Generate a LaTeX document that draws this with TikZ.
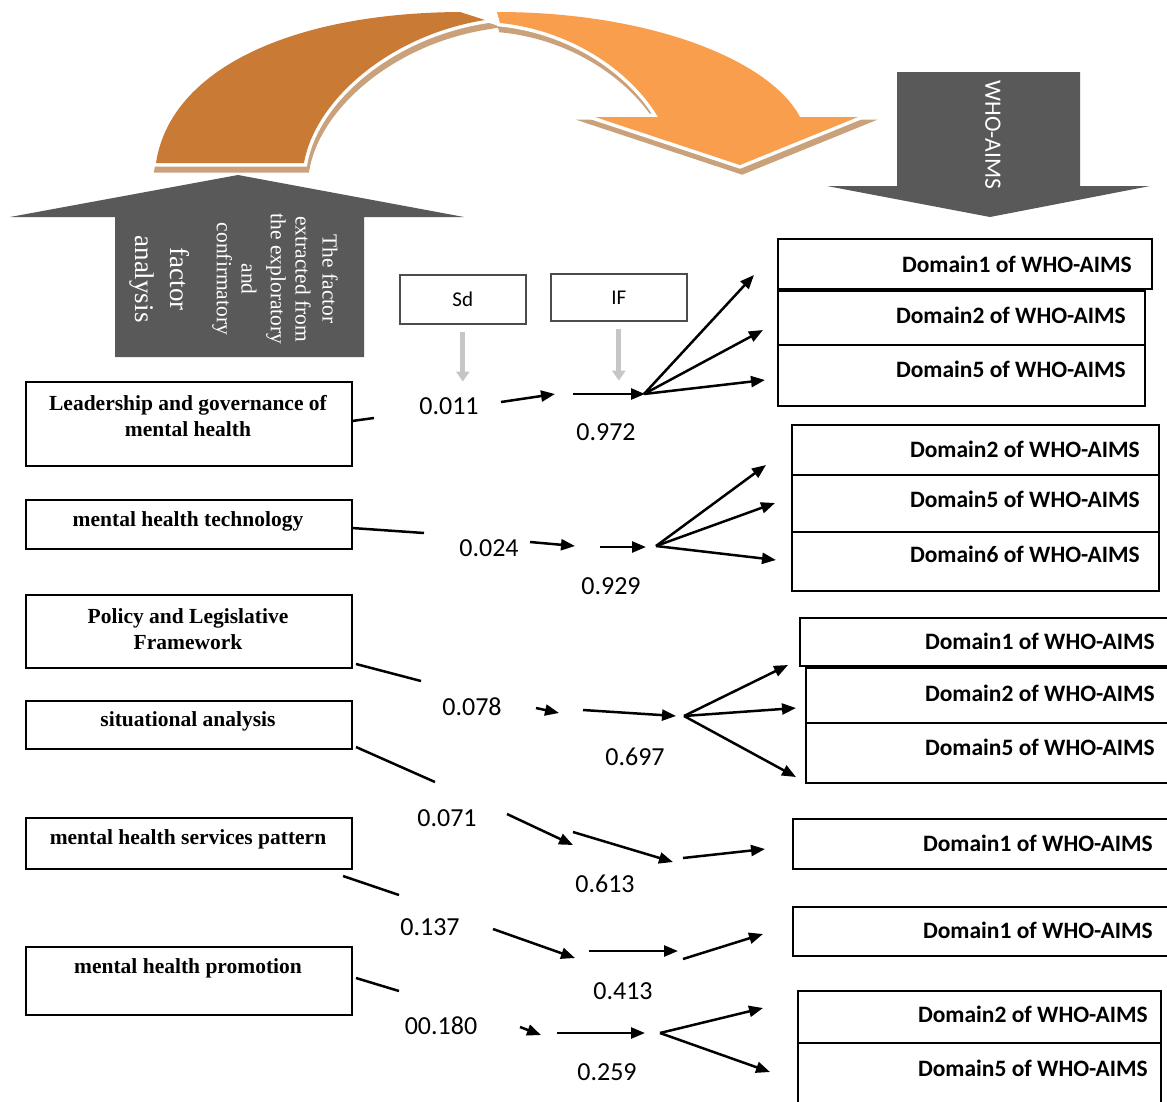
\documentclass[tikz,border=0pt]{standalone}
\usepackage{fontspec}
\setmainfont{Liberation Serif}
\newfontfamily\carlito{Carlito}
\usetikzlibrary{arrows.meta}
\definecolor{darkOr}{HTML}{C97A35}
\definecolor{lightOr}{HTML}{F89E4C}
\definecolor{tanSh}{HTML}{C9A27C}
\definecolor{arrGray}{HTML}{595959}
\begin{document}
\begin{tikzpicture}[x=1pt,y=-1pt,
  conn/.style={line width=2.5pt, black},
  arr/.style={conn, -{Triangle[length=14pt,width=11pt]}},
  lbox/.style={draw, line width=1.6pt, anchor=north west, inner sep=0pt, minimum width=326pt},
  rbox/.style={draw, line width=1.6pt, anchor=north west, inner sep=0pt},
  ltext/.style={font=\bfseries\fontsize{21.5}{26}\selectfont, align=center, inner sep=0pt},
  rtext/.style={font=\carlito\bfseries\fontsize{23.5}{26}\selectfont, anchor=east, inner sep=0pt},
  num/.style={font=\carlito\fontsize{26}{30}\selectfont, inner sep=0pt},
  vtext/.style={font=\fontsize{21.5}{23}\selectfont, white, rotate=-90, inner sep=0pt},
  vbig/.style={vtext, font=\fontsize{27}{29}\selectfont},
  smallbox/.style={draw=black!70, line width=1.6pt, anchor=north west, inner sep=0pt, font=\carlito\fontsize{21}{24}\selectfont},
  gArr/.style={line width=5pt, draw=gray!45, -{Triangle[length=10pt,width=13pt]}},
  glow/.style={draw=white, line width=7pt, line join=miter},
  shad/.style={fill=tanSh, draw=tanSh, line width=7pt, line join=miter},
]
\useasboundingbox (0,0) rectangle (1167,1101);
\fill[white] (0,0) rectangle (1167,1101);

% ---- curved orange arrow ----
\path[shad] (158,169) .. controls (172,76) and (292,19) .. (462,18) -- (487,26) .. controls (392,41) and (317,106) .. (306,169) -- cycle;
\path[shad] (499,18) .. controls (652,18) and (772,66) .. (802,123) -- (860,123) -- (742,171) -- (597,123) -- (660,123) .. controls (632,76) and (572,36) .. (502,29) -- cycle;
\path[glow] (156,163) .. controls (170,70) and (290,13) .. (460,12) -- (485,20) .. controls (390,35) and (315,100) .. (304,163) -- cycle;
\fill[darkOr] (156,163) .. controls (170,70) and (290,13) .. (460,12) -- (485,20) .. controls (390,35) and (315,100) .. (304,163) -- cycle;
\path[glow] (497,12) .. controls (650,12) and (770,60) .. (800,117) -- (858,117) -- (740,165) -- (595,117) -- (658,117) .. controls (630,70) and (570,30) .. (500,23) -- cycle;
\fill[lightOr] (497,12) .. controls (650,12) and (770,60) .. (800,117) -- (858,117) -- (740,165) -- (595,117) -- (658,117) .. controls (630,70) and (570,30) .. (500,23) -- cycle;

% ---- gray block arrows ----
\fill[arrGray] (10,217) -- (238,175) -- (464,217) -- (364,217) -- (364,357) -- (115,357) -- (115,217) -- cycle;
\fill[arrGray] (897,72) -- (1080,72) -- (1080,186) -- (1150,186) -- (990,217) -- (827,186) -- (897,186) -- cycle;

\node[vtext] (t1) at (330,279) {The factor};
\node[vtext] (t2) at (303,279) {extracted from};
\node[vtext] (t3) at (276,279) {the exploratory};
\node[vtext] (t4) at (249,279) {and};
\node[vtext] (t5) at (222,279) {confirmatory};
\node[vbig] (t6) at (180,279) {factor};
\node[vbig] (t7) at (142,279) {analysis};
\node[white, rotate=-90, inner sep=0pt, font=\carlito\fontsize{23.5}{26}\selectfont] (who) at (993,135) {WHO-AIMS};

% ---- Sd / IF ----
\node[smallbox, minimum width=126pt, minimum height=49pt] (sd) at (399,274) {Sd};
\node[smallbox, minimum width=136pt, minimum height=47pt] (if) at (550,273) {IF};
\draw[gArr] ([yshift=-7pt]sd.south) -- ++(0,50);
\draw[gArr] ([yshift=-7pt]if.south) -- ++(0,52);

% ---- left boxes ----
\node[lbox, minimum height=84pt] (L1) at (25,381) {};
\node[ltext] (L1t) at (188,416) {Leadership and governance of\\mental health};
\node[lbox, minimum height=49pt] (L2) at (25,499) {};
\node[ltext] (L2t) at (188,521) {mental health technology};
\node[lbox, minimum height=73pt] (L3) at (25,594) {};
\node[ltext] (L3t) at (188,629) {Policy and Legislative\\Framework};
\node[lbox, minimum height=48pt] (L4) at (25,700) {};
\node[ltext] (L4t) at (188,721) {situational analysis};
\node[lbox, minimum height=51pt] (L5) at (25,817) {};
\node[ltext] (L5t) at (188,839) {mental health services pattern};
\node[lbox, minimum height=68pt] (L6) at (25,946) {};
\node[ltext] (L6t) at (188,968) {mental health promotion};

% ---- right boxes ----
\node[rbox, minimum width=374pt, minimum height=50pt] (A1) at (777,238) {};
\node[rtext] (A1t) at (1132,264) {Domain1 of WHO-AIMS};
\node[rbox, minimum width=367pt, minimum height=54pt] (A2) at (777,290) {};
\node[rtext] (A2t) at (1126,315) {Domain2 of WHO-AIMS};
\node[rbox, minimum width=367pt, minimum height=61pt] (A3) at (777,344) {};
\node[rtext] (A3t) at (1126,369) {Domain5 of WHO-AIMS};

\node[rbox, minimum width=367pt, minimum height=50pt] (B1) at (791,424) {};
\node[rtext] (B1t) at (1140,449) {Domain2 of WHO-AIMS};
\node[rbox, minimum width=367pt, minimum height=57pt] (B2) at (791,474) {};
\node[rtext] (B2t) at (1140,499) {Domain5 of WHO-AIMS};
\node[rbox, minimum width=367pt, minimum height=59pt] (B3) at (791,531) {};
\node[rtext] (B3t) at (1140,554) {Domain6 of WHO-AIMS};

\node[rbox, minimum width=368pt, minimum height=48pt] (C1) at (799,617) {};
\node[rtext] (C1t) at (1155,641) {Domain1 of WHO-AIMS};
\node[rbox, minimum width=362pt, minimum height=55pt] (C2) at (805,667) {};
\node[rtext] (C2t) at (1155,693) {Domain2 of WHO-AIMS};
\node[rbox, minimum width=362pt, minimum height=60pt] (C3) at (805,722) {};
\node[rtext] (C3t) at (1155,747) {Domain5 of WHO-AIMS};

\node[rbox, minimum width=375pt, minimum height=50pt] (D1) at (792,818) {};
\node[rtext] (D1t) at (1153,843) {Domain1 of WHO-AIMS};

\node[rbox, minimum width=375pt, minimum height=49pt] (E1) at (792,906) {};
\node[rtext] (E1t) at (1153,930) {Domain1 of WHO-AIMS};

\node[rbox, minimum width=363pt, minimum height=52pt] (F1) at (797,990) {};
\node[rtext] (F1t) at (1148,1014) {Domain2 of WHO-AIMS};
\node[rbox, minimum width=363pt, minimum height=70pt] (F2) at (797,1042) {};
\node[rtext] (F2t) at (1148,1068) {Domain5 of WHO-AIMS};

% ---- numbers ----
\node[num] (n1) at (449,406) {0.011};
\node[num] (m1) at (606,432) {0.972};
\node[num] (n2) at (489,548) {0.024};
\node[num] (m2) at (611,586) {0.929};
\node[num] (n3) at (472,707) {0.078};
\node[num] (m3) at (635,757) {0.697};
\node[num] (n4) at (447,818) {0.071};
\node[num] (m4) at (605,884) {0.613};
\node[num] (n5) at (430,927) {0.137};
\node[num] (m5) at (623,991) {0.413};
\node[num] (n6) at (441,1026) {00.180};
\node[num] (m6) at (607,1072) {0.259};

% ---- coordinates ----
\coordinate (s1a) at (352,421); \coordinate (s1b) at (374,418);
\coordinate (a1a) at (501,402); \coordinate (a1b) at (555,394);
\coordinate (b1a) at (573,394); \coordinate (b1b) at (645,394);
\coordinate (f1) at (644,394);
\coordinate (f1x) at (754,275); \coordinate (f1y) at (763,330); \coordinate (f1z) at (765,380);

\coordinate (s2a) at (352,528); \coordinate (s2b) at (424,533);
\coordinate (a2a) at (530,542); \coordinate (a2b) at (575,546);
\coordinate (b2a) at (600,547); \coordinate (b2b) at (646,547);
\coordinate (f2) at (656,546);
\coordinate (f2x) at (766,465); \coordinate (f2y) at (775,503); \coordinate (f2z) at (776,560);

\coordinate (s3a) at (356,664); \coordinate (s3b) at (421,681);
\coordinate (a3a) at (536,708); \coordinate (a3b) at (559,713);
\coordinate (b3a) at (583,710); \coordinate (b3b) at (676,716);
\coordinate (f3) at (684,716);
\coordinate (f3x) at (788,665); \coordinate (f3y) at (796,708); \coordinate (f3z) at (796,777);

\coordinate (s4a) at (356,747); \coordinate (s4b) at (435,782);
\coordinate (a4a) at (507,814); \coordinate (a4b) at (573,845);
\coordinate (b4a) at (573,832); \coordinate (b4b) at (673,862);
\coordinate (c4a) at (683,858); \coordinate (c4b) at (765,849);

\coordinate (s5a) at (343,876); \coordinate (s5b) at (399,895);
\coordinate (a5a) at (493,929); \coordinate (a5b) at (575,958);
\coordinate (b5a) at (589,951); \coordinate (b5b) at (678,951);
\coordinate (c5a) at (683,959); \coordinate (c5b) at (763,934);

\coordinate (s6a) at (356,978); \coordinate (s6b) at (399,991);
\coordinate (a6a) at (520,1027); \coordinate (a6b) at (541,1035);
\coordinate (b6a) at (557,1033); \coordinate (b6b) at (645,1033);
\coordinate (f6) at (660,1033);
\coordinate (f6x) at (763,1008); \coordinate (f6y) at (770,1072);

% ---- connectors ----
\draw[conn] (s1a) -- (s1b);
\draw[arr] (a1a) -- (a1b);
\draw[arr] (b1a) -- (b1b);
\draw[arr] (f1) -- (f1x); \draw[arr] (f1) -- (f1y); \draw[arr] (f1) -- (f1z);

\draw[conn] (s2a) -- (s2b);
\draw[arr] (a2a) -- (a2b);
\draw[arr] (b2a) -- (b2b);
\draw[arr] (f2) -- (f2x); \draw[arr] (f2) -- (f2y); \draw[arr] (f2) -- (f2z);

\draw[conn] (s3a) -- (s3b);
\draw[arr] (a3a) -- (a3b);
\draw[arr] (b3a) -- (b3b);
\draw[arr] (f3) -- (f3x); \draw[arr] (f3) -- (f3y); \draw[arr] (f3) -- (f3z);

\draw[conn] (s4a) -- (s4b);
\draw[arr] (a4a) -- (a4b);
\draw[arr] (b4a) -- (b4b);
\draw[arr] (c4a) -- (c4b);

\draw[conn] (s5a) -- (s5b);
\draw[arr] (a5a) -- (a5b);
\draw[arr] (b5a) -- (b5b);
\draw[arr] (c5a) -- (c5b);

\draw[conn] (s6a) -- (s6b);
\draw[arr] (a6a) -- (a6b);
\draw[arr] (b6a) -- (b6b);
\draw[arr] (f6) -- (f6x); \draw[arr] (f6) -- (f6y);
\end{tikzpicture}
\end{document}
